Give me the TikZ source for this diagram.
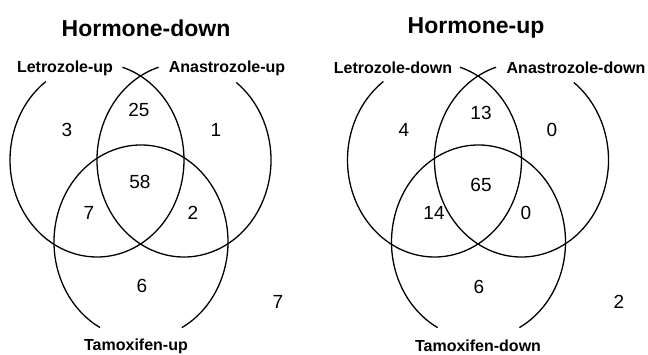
\documentclass[tikz,border=0pt]{standalone}
\usepackage{fontspec}
\setmainfont{Liberation Sans}
\begin{document}
\begin{tikzpicture}[x=1pt,y=1pt,
  ring/.style={line width=1.3pt},
  title/.style={font=\fontsize{23}{25}\selectfont\bfseries, inner sep=0pt},
  setlabel/.style={font=\fontsize{16}{18}\selectfont\bfseries, inner sep=0pt},
  count/.style={font=\fontsize{19}{21}\selectfont, inner sep=0pt}]
\useasboundingbox (0,0) rectangle (648,354);
% ---------- Left diagram: Hormone-down ----------
\draw[ring] (97,194) ++(126:87 and 97) arc[start angle=126, end angle=433, x radius=87, y radius=97];
\draw[ring] (184,194) ++(107:87 and 97) arc[start angle=107, end angle=413, x radius=87, y radius=97];
\draw[ring] (141,112) ++(-62:87 and 97) arc[start angle=-62, end angle=242, x radius=87, y radius=97];
\node[title] (t1) at (146,326) {Hormone-down};
\node[setlabel] (l1) at (65,286) {Letrozole-up};
\node[setlabel] (a1) at (227,286) {Anastrozole-up};
\node[setlabel] (m1) at (136,8) {Tamoxifen-up};
\node[count] (n1a) at (67,224) {3};
\node[count] (n1b) at (139,244) {25};
\node[count] (n1c) at (216,224) {1};
\node[count] (n1d) at (140,172) {58};
\node[count] (n1e) at (89,141) {7};
\node[count] (n1f) at (193,141) {2};
\node[count] (n1g) at (142,68) {6};
\node[count] (n1h) at (278,52) {7};
% ---------- Right diagram: Hormone-up ----------
\draw[ring] (434.5,194) ++(126:87 and 97) arc[start angle=126, end angle=433, x radius=87, y radius=97];
\draw[ring] (521.5,194) ++(107:87 and 97) arc[start angle=107, end angle=413, x radius=87, y radius=97];
\draw[ring] (478.5,112) ++(-62:87 and 97) arc[start angle=-62, end angle=242, x radius=87, y radius=97];
\node[title] (t2) at (476,326) {Hormone-up};
\node[setlabel] (l2) at (393,286) {Letrozole-down};
\node[setlabel] (a2) at (576,286) {Anastrozole-down};
\node[setlabel] (m2) at (478,8) {Tamoxifen-down};
\node[count] (n2a) at (404,224) {4};
\node[count] (n2b) at (481,241) {13};
\node[count] (n2c) at (552,224) {0};
\node[count] (n2d) at (481,169) {65};
\node[count] (n2e) at (434,141) {14};
\node[count] (n2f) at (526,141) {0};
\node[count] (n2g) at (479,67) {6};
\node[count] (n2h) at (619,52) {2};
\end{tikzpicture}
\end{document}
